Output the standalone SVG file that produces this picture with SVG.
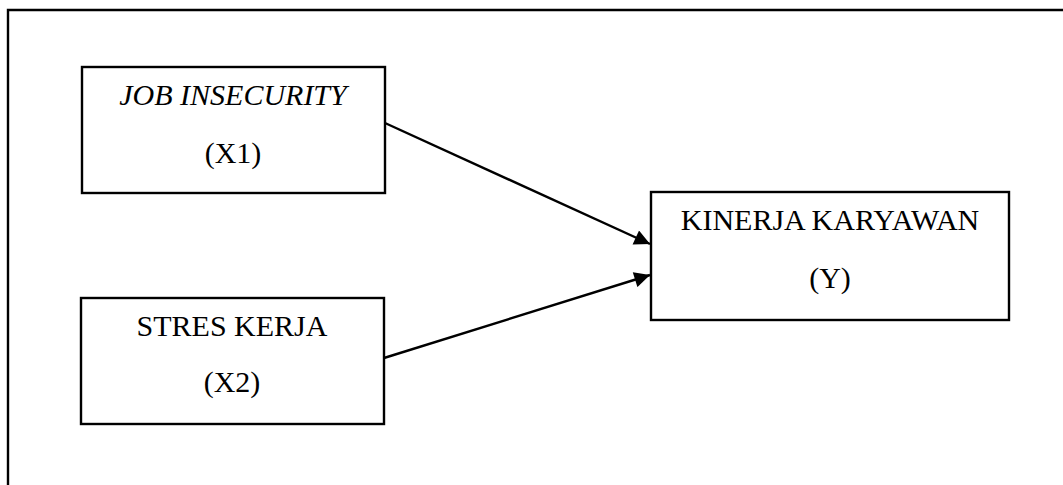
<svg xmlns="http://www.w3.org/2000/svg" width="1063" height="485" viewBox="0 0 1063 485">
<style>
.box{fill:#fff;stroke:#000;stroke-width:2.4}
.lbl{font-family:"Liberation Serif","Times New Roman",serif;font-size:30px;fill:#000;text-anchor:middle}
.it{font-style:italic}
.conn{stroke:#000;stroke-width:2.4;fill:none}
</style>
<defs>
<marker id="arr" viewBox="0 0 10 10" refX="10" refY="5" markerWidth="7.5" markerHeight="6.5" markerUnits="strokeWidth" orient="auto">
<path d="M0,0 L10,5 L0,10 z" fill="#000"/>
</marker>
</defs>
<rect width="1063" height="485" fill="#fff"/>
<path d="M8,485 L8,10 L1063,10" fill="none" stroke="#000" stroke-width="2.4"/>
<g id="x1">
<rect class="box" x="82" y="67" width="303" height="126"/>
<text class="lbl it" x="233" y="105">JOB INSECURITY</text>
<text class="lbl" x="233" y="163">(X1)</text>
</g>
<g id="x2">
<rect class="box" x="81" y="298" width="303" height="126"/>
<text class="lbl" x="232" y="336">STRES KERJA</text>
<text class="lbl" x="232" y="392">(X2)</text>
</g>
<g id="y">
<rect class="box" x="651" y="192" width="358" height="128"/>
<text class="lbl" x="830" y="230">KINERJA KARYAWAN</text>
<text class="lbl" x="830" y="288">(Y)</text>
</g>
<g id="connectors">
<line class="conn" x1="385" y1="123" x2="650" y2="244" marker-end="url(#arr)"/>
<line class="conn" x1="384" y1="358" x2="650" y2="275" marker-end="url(#arr)"/>
</g>
</svg>
